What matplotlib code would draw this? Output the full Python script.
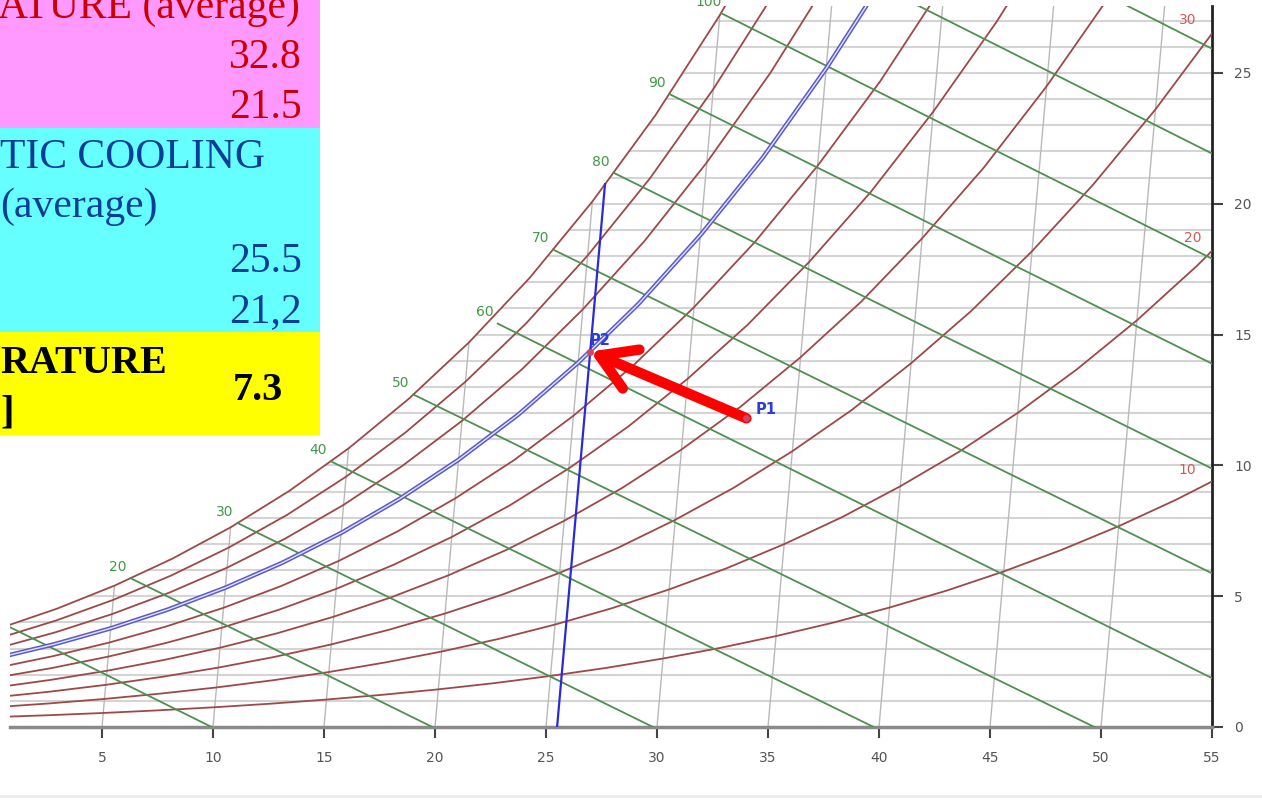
import matplotlib
matplotlib.use("Agg")
import matplotlib.pyplot as plt
from matplotlib.transforms import Affine2D
from matplotlib.patches import Rectangle
from matplotlib.lines import Line2D

# ------------------------------------------------------------------ data
T_GRID = [0.0, 2.5, 5.0, 7.5, 10.0, 12.5, 15.0, 17.5, 20.0, 22.5, 25.0, 27.5,
          30.0, 32.5, 35.0, 37.5, 40.0, 42.5, 45.0, 47.5, 50.0, 52.5, 55.0]

RH_LEVELS = [10, 20, 30, 40, 50, 60, 70, 80, 90, 100]
W_RH10 = [0.375, 0.449, 0.536, 0.638, 0.755, 0.891, 1.049, 1.231, 1.439, 1.677, 1.952, 2.262,
          2.618, 3.018, 3.475, 3.985, 4.567, 5.212, 5.946, 6.764, 7.676, 8.696, 9.829]
W_RH20 = [0.751, 0.899, 1.073, 1.276, 1.512, 1.785, 2.101, 2.467, 2.885, 3.364, 3.916, 4.541,
          5.258, 6.066, 6.989, 8.021, 9.201, 10.512, 12.008, 13.677, 15.544, 17.638, 19.974]
W_RH30 = [1.128, 1.350, 1.611, 1.917, 2.270, 2.681, 3.157, 3.708, 4.338, 5.059, 5.893, 6.837,
          7.921, 9.143, 10.542, 12.110, 13.904, 15.903, 18.187, 20.743, 23.611, 26.837, 30.450]
W_RH40 = [1.504, 1.801, 2.150, 2.558, 3.031, 3.579, 4.217, 4.954, 5.798, 6.764, 7.882, 9.149,
          10.606, 12.250, 14.136, 16.252, 18.678, 21.386, 24.488, 27.968, 31.885]
W_RH50 = [1.882, 2.253, 2.690, 3.201, 3.793, 4.481, 5.280, 6.205, 7.264, 8.478, 9.884, 11.478,
          13.314, 15.389, 17.771, 20.448, 23.524, 26.964, 30.914]
W_RH60 = [2.259, 2.706, 3.231, 3.845, 4.557, 5.385, 6.347, 7.460, 8.737, 10.201, 11.899, 13.825,
          16.046, 18.559, 21.448, 24.700, 28.444]
W_RH70 = [2.638, 3.159, 3.772, 4.490, 5.323, 6.291, 7.417, 8.721, 10.217, 11.934, 13.926, 16.189,
          18.801, 21.760, 25.167, 29.009]
W_RH80 = [3.016, 3.613, 4.315, 5.137, 6.091, 7.200, 8.491, 9.987, 11.704, 13.677, 15.967, 18.571,
          21.580, 24.993, 28.929]
W_RH90 = [3.395, 4.068, 4.859, 5.785, 6.860, 8.112, 9.569, 11.258, 13.199, 15.428, 18.021, 20.971,
          24.383, 28.259]
W_RH100 = [3.775, 4.523, 5.403, 6.435, 7.632, 9.026, 10.651, 12.534, 14.700, 17.190, 20.087, 23.388,
           27.212, 31.559]
RH_CURVES = [W_RH10, W_RH20, W_RH30, W_RH40, W_RH50, W_RH60, W_RH70, W_RH80, W_RH90, W_RH100]
RH_LABELS = ["10", "20", "30"]

H_LEVELS = [10, 20, 30, 40, 50, 60, 70, 80, 90, 100, 110, 120]
H_START_T = [0.32, 5.69, 10.29, 14.24, 17.70, 21.22, 23.42, 25.83, 28.03, 30.04, 31.86, 33.54]
H_START_W = [3.87, 5.69, 7.80, 10.16, 12.71, 15.42, 18.25, 21.19, 24.20, 27.29, 30.45, 33.65]
H_END_T = [9.94, 19.88, 29.82, 39.76, 49.70, 54.80, 54.40, 53.97, 53.55, 53.14, 52.72, 52.30]
H_END_W = [0.0, 0.0, 0.0, 0.0, 0.0, 1.87, 5.87, 9.88, 13.89, 17.90, 21.92, 25.93]
H_LABELED = [20, 30, 40, 50, 60, 70, 80, 90, 100]

ISO_T = [5, 10, 15, 20, 25, 30, 35, 40, 45, 50, 55]
ISO_TOP_W = [5.40, 7.63, 10.65, 14.70, 20.09, 27.21, 36.59, 48.90, 65.06, 86.35, 114.59]

HLINE_W = list(range(1, 28))

COOL_T = 25.5
COOL_W = [0.0, 20.75]
P1_T, P1_W = 32.8, 11.8
P2_T, P2_W = 25.5, 14.35

X_TICKS = [5, 10, 15, 20, 25, 30, 35, 40, 45, 50, 55]
Y_TICKS = [0, 5, 10, 15, 20, 25]

TABLE_ROWS = [
    # text, x_px, baseline_px, ha, color, weight
    ("ATURE (average)", 300, 18, "right", "#cc0000", "normal"),
    ("32.8", 302, 68, "right", "#cc0000", "normal"),
    ("21.5", 302, 118, "right", "#cc0000", "normal"),
    ("TIC COOLING", 0, 168, "left", "#0a3d99", "normal"),
    ("(average)", 0, 217, "left", "#0a3d99", "normal"),
    ("25.5", 302, 272, "right", "#0a3d99", "normal"),
    ("21,2", 302, 322, "right", "#0a3d99", "normal"),
    ("RATURE", 0, 373, "left", "black", "bold"),
    ("]", 0, 422, "left", "black", "bold"),
    ("7.3", 283, 400, "right", "black", "bold"),
]

# ------------------------------------------------------------------ figure
W_PX, H_PX = 1262, 800
fig = plt.figure(figsize=(W_PX / 100, H_PX / 100), dpi=100)
fig.patch.set_facecolor("white")
ax = fig.add_axes([10 / W_PX, 73 / H_PX, 1202 / W_PX, 721 / H_PX])
ax.set_facecolor("white")

C_SKEW = 0.104  # oblique dry-bulb lines of the chart
trans = Affine2D.from_values(1, 0, C_SKEW, 1, 0, 0) + ax.transData

RED = "#9e4848"
GREEN = "#4f9050"
GRID_H = "#d4d4d4"
GRID_V = "#b9b9b9"

# horizontal humidity grid
for w in HLINE_W:
    ax.axhline(w, color=GRID_H, lw=1.5, zorder=1)

# white region above saturation
mask_t = T_GRID[:len(W_RH100)] + [T_GRID[len(W_RH100) - 1], -5.0, -5.0]
mask_w = W_RH100 + [40.0, 40.0, W_RH100[0]]
ax.fill(mask_t, mask_w, color="white", lw=0, zorder=1.5, transform=trans)

# dry bulb lines
for t, wt in zip(ISO_T, ISO_TOP_W):
    ax.plot([t, t], [0, wt], color=GRID_V, lw=1.0, zorder=2, transform=trans)

# relative humidity curves
for curve in RH_CURVES:
    ax.plot(T_GRID[:len(curve)], curve, color=RED, lw=1.3, zorder=3, transform=trans)

# enthalpy lines
for h, ts, ws, te, we in zip(H_LEVELS, H_START_T, H_START_W, H_END_T, H_END_W):
    ax.plot([ts, te], [ws, we], color=GREEN, lw=1.3, zorder=3, transform=trans)
    if h in H_LABELED:
        ax.annotate(str(h), xy=(ts, ws), xycoords=trans, xytext=(-9, 8),
                    textcoords="offset points", ha="center", va="center",
                    color="#3f9a45", fontsize=10, annotation_clip=False, zorder=5)

# RH labels at right side
for lab, pos in zip(RH_LABELS, [(53.89, 9.83), (54.12, 18.7), (53.89, 27.04)]):
    ax.text(pos[0], pos[1], lab, color="#cf5a5a", fontsize=10, ha="center", va="center", zorder=5)

# 70 % curve highlighted (blue double line)
t70 = T_GRID[:len(W_RH70)]
ax.plot(t70, W_RH70, color="#5a5acc", lw=3.2, zorder=4, transform=trans)
ax.plot(t70, W_RH70, color="#e4e4ff", lw=1.0, zorder=4.1, transform=trans)

# adiabatic cooling isotherm
ax.plot([COOL_T, COOL_T], COOL_W, color="#2a2ad6", lw=1.6, zorder=4.2, transform=trans)

# arrow P1 -> P2
ax.annotate("", xy=(P2_T, P2_W), xycoords=trans, xytext=(P1_T, P1_W), textcoords=trans,
            arrowprops=dict(arrowstyle="->,head_length=0.62,head_width=0.38", color="#ff0000",
                            lw=7.5, shrinkA=0, shrinkB=0, mutation_scale=40,
                            capstyle="round", joinstyle="round"), zorder=6)

# points
for (pt, pw, lab, off) in [(P1_T, P1_W, "P1", (14, 6.5)), (P2_T, P2_W, "P2", (7, 8))]:
    ax.plot([pt], [pw], "o", ms=4, color="#d0456a", zorder=7, transform=trans)
    ax.annotate(lab, xy=(pt, pw), xycoords=trans, xytext=off, textcoords="offset points",
                ha="center", va="center", color="#2b3fd4", fontsize=10.5, fontweight="bold",
                zorder=7)

# axes styling
ax.set_xlim(0.856, 55)
ax.set_ylim(0, 27.56)
ax.set_xticks(X_TICKS)
ax.set_xticklabels([str(v) for v in X_TICKS])
ax.yaxis.tick_right()
ax.set_yticks(Y_TICKS)
ax.set_yticklabels([str(v) for v in Y_TICKS])
ax.tick_params(axis="x", direction="out", length=8, width=1.5, color="#444444",
               labelsize=10, labelcolor="#555555", pad=9)
ax.tick_params(axis="y", direction="out", length=8, width=1.5, color="#444444",
               labelsize=10, labelcolor="#555555", pad=8)
for s in ["top", "left"]:
    ax.spines[s].set_visible(False)
ax.spines["bottom"].set_color("#8a8a8a")
ax.spines["bottom"].set_linewidth(2.5)
ax.spines["right"].set_color("#222222")
ax.spines["right"].set_linewidth(2)

# table overlay
boxes = [(0, 128, "#ff99ff"), (128, 332, "#66ffff"), (332, 435, "#ffff00")]
for y0, y1, col in boxes:
    fig.add_artist(Rectangle((0, 1 - y1 / H_PX), 320 / W_PX, (y1 - y0) / H_PX,
                             transform=fig.transFigure, facecolor=col, edgecolor="none",
                             zorder=10))
for text, xp, yp, ha, col, wt in TABLE_ROWS:
    fig.text(xp / W_PX, 1 - yp / H_PX, text, ha=ha, va="baseline", color=col,
             fontsize=30 if wt == "normal" else 29, fontweight=wt,
             family="Liberation Serif", zorder=11)

fig.add_artist(Line2D([0, 1], [1 - 796 / H_PX] * 2, transform=fig.transFigure,
                      color="#ececec", lw=2, zorder=0))

fig.savefig("out.png", dpi=100, facecolor="white")
